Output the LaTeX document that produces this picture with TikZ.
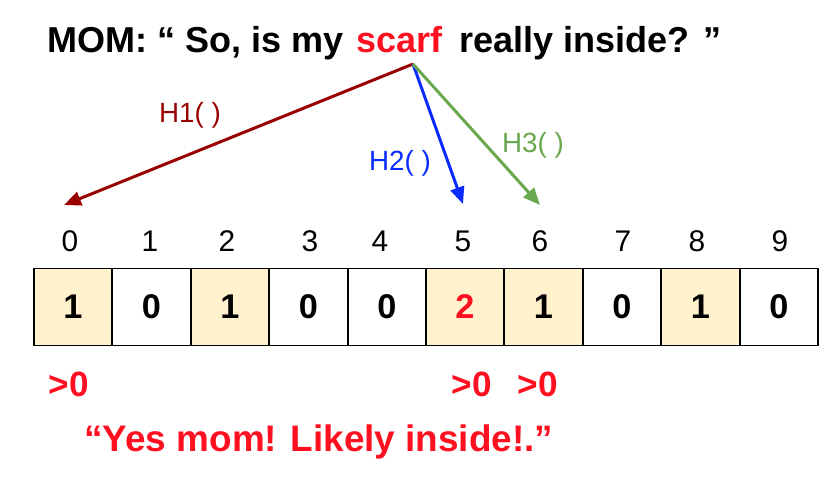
\documentclass[tikz,border=0pt]{standalone}
\usepackage{fontspec}
\setmainfont{Liberation Sans}
\usepackage{tikz}
\usetikzlibrary{arrows.meta}
\definecolor{hred}{HTML}{990000}
\definecolor{hblue}{HTML}{0A2BFF}
\definecolor{hgreen}{HTML}{6AA84F}
\definecolor{alert}{HTML}{FF1020}
\definecolor{setbit}{HTML}{FFF2CC}

\begin{document}
\begin{tikzpicture}[
    ttl/.style={font=\bfseries\fontsize{20.5}{24}\selectfont, inner sep=0pt},
    cl/.style={rectangle, draw, line width=1.1pt, minimum width=1.57cm,
               minimum height=1.54cm, inner sep=0pt,
               font=\bfseries\fontsize{19.5}{22}\selectfont},
    hc/.style={cl, fill=setbit},
    ix/.style={font=\fontsize{17}{20}\selectfont, inner sep=0pt},
    hl/.style={font=\fontsize{15.8}{18}\selectfont, inner sep=0pt},
    gt/.style={font=\bfseries\fontsize{20}{24}\selectfont, text=alert, inner sep=0pt},
    e/.style={-{Triangle[length=3.4mm, width=2.8mm]}, line width=1.7pt},
  ]
  \useasboundingbox (0,0) rectangle (16.76,-9.60);
  % question
  \node[ttl, anchor=base west] (ask) at (0.94, -1.04)
    {MOM: “ So, is my\hspace{0.26cm}\textcolor{alert}{scarf}\hspace{0.34cm}really inside? ”};
  \coordinate (src) at (8.26, -1.28);
  \coordinate (t1) at (1.28, -4.10);
  \coordinate (t2) at (9.26, -4.08);
  \coordinate (t3) at (10.80, -4.10);
  % bit array
  \node[hc] (c0) at (1.46, -6.14) {1};
  \node[cl] (c1) at (3.03, -6.14) {0};
  \node[hc] (c2) at (4.60, -6.14) {1};
  \node[cl] (c3) at (6.17, -6.14) {0};
  \node[cl] (c4) at (7.74, -6.14) {0};
  \node[hc, text=alert] (c5) at (9.30, -6.14) {2};
  \node[hc] (c6) at (10.87, -6.14) {1};
  \node[cl] (c7) at (12.44, -6.14) {0};
  \node[hc] (c8) at (14.01, -6.14) {1};
  \node[cl] (c9) at (15.58, -6.14) {0};
  \node[ix] (i0) at (1.40, -4.82) {0};
  \node[ix] (i1) at (3.00, -4.82) {1};
  \node[ix] (i2) at (4.54, -4.82) {2};
  \node[ix] (i3) at (6.20, -4.82) {3};
  \node[ix] (i4) at (7.60, -4.82) {4};
  \node[ix] (i5) at (9.26, -4.82) {5};
  \node[ix] (i6) at (10.80, -4.82) {6};
  \node[ix] (i7) at (12.46, -4.82) {7};
  \node[ix] (i8) at (13.94, -4.82) {8};
  \node[ix] (i9) at (15.60, -4.82) {9};
  % hashes
  \draw[e, hred] (src) -- (t1);
  \draw[e, hblue] (src) -- (t2);
  \draw[e, hgreen] (src) -- (t3);
  \node[hl, text=hred] (h1) at (3.80, -2.30) {H1( )};
  \node[hl, text=hblue] (h2) at (8.00, -3.26) {H2( )};
  \node[hl, text=hgreen] (h3) at (10.66, -2.90) {H3( )};
  % answer
  \node[gt] (g0) at (1.38, -7.69) {>0};
  \node[gt] (g5) at (9.44, -7.69) {>0};
  \node[gt] (g6) at (10.76, -7.69) {>0};
  \node[gt, font=\bfseries\fontsize{21}{24}\selectfont, anchor=base west] (ans)
    at (1.68, -9.03) {“Yes mom! Likely inside!.”};
\end{tikzpicture}
\end{document}
